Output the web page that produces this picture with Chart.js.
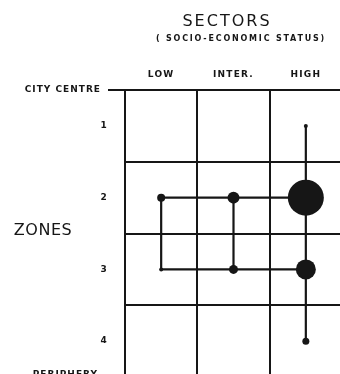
<!DOCTYPE html>
<html>
<head>
<meta charset="utf-8">
<script src="https://cdn.jsdelivr.net/npm/chart.js@4"></script>
<style>
html, body { margin: 0; padding: 0; background: #fff; overflow: hidden; }
#wrap { width: 343px; height: 380px; }
</style>
</head>
<body>
<div id="wrap"><canvas id="chart" width="343" height="380"></canvas></div>
<script>
const sectors = ['LOW', 'INTER.', 'HIGH'];
const zones = ['1', '2', '3', '4'];

// dot weight per sector (LOW, INTER., HIGH) in each zone, null = no dot
const zone1 = [null, null, 2];
const zone2 = [4, 6, 18];
const zone3 = [2, 4.5, 10];
const zone4 = [null, null, 3.5];

// linked cells
const highLink = ['1', '2', '3', '4'];
const lowLink = ['2', '3'];
const interLink = ['2', '3'];
const rowLinks = ['2', '3'];

const ink = '#161616';

const dots = [];
const radii = [];
[zone1, zone2, zone3, zone4].forEach((row, i) => {
    row.forEach((v, j) => {
        if (v !== null) {
            dots.push({ x: sectors[j], y: zones[i] });
            radii.push(v);
        }
    });
});

const lineSet = pts => ({
    data: pts,
    showLine: true,
    borderColor: ink,
    borderWidth: 2.2,
    pointRadius: 0,
    fill: false
});

const datasets = [
    { data: dots, pointRadius: radii, backgroundColor: ink, borderWidth: 0, showLine: false },
    lineSet(highLink.map(z => ({ x: 'HIGH', y: z }))),
    lineSet(lowLink.map(z => ({ x: 'LOW', y: z }))),
    lineSet(interLink.map(z => ({ x: 'INTER.', y: z })))
];
rowLinks.forEach(z => datasets.push(lineSet(sectors.map(s => ({ x: s, y: z })))));

// fixed axis boxes, no extra label padding
const fixBox = size => s => {
    if (s.isHorizontal()) s.height = size; else s.width = size;
    s.paddingLeft = s.paddingRight = s.paddingTop = s.paddingBottom = 0;
};

const labelsPlugin = {
    id: 'labels',
    afterDraw(chart) {
        const { ctx, chartArea, scales } = chart;
        ctx.save();
        ctx.fillStyle = ink;
        ctx.strokeStyle = ink;
        ctx.textBaseline = 'middle';

        ctx.textAlign = 'center';
        ctx.font = '16px "DejaVu Sans"';
        ctx.letterSpacing = '2px';
        ctx.fillText('SECTORS', 227, 22);

        ctx.font = 'bold 8px "DejaVu Sans"';
        ctx.letterSpacing = '1.8px';
        ctx.fillText('( SOCIO-ECONOMIC STATUS)', 241, 39);

        ctx.font = 'bold 9px "DejaVu Sans"';
        ctx.letterSpacing = '1.2px';
        sectors.forEach((s, i) => {
            ctx.fillText(s, scales.x.getPixelForValue(i), 75);
        });

        ctx.textAlign = 'right';
        zones.forEach((z, i) => {
            ctx.fillText(z, chartArea.left - 17, scales.y.getPixelForValue(i));
        });

        ctx.letterSpacing = '1px';
        ctx.fillText('CITY CENTRE', chartArea.left - 24, chartArea.top);
        ctx.fillText('PERIPHERY', chartArea.left - 27, chartArea.bottom - 2);

        ctx.textAlign = 'center';
        ctx.font = '16px "DejaVu Sans"';
        ctx.letterSpacing = '0.5px';
        ctx.fillText('ZONES', 43, 231);

        ctx.lineWidth = 2;
        ctx.beginPath();
        ctx.moveTo(chartArea.left - 17, chartArea.top);
        ctx.lineTo(chartArea.left, chartArea.top);
        ctx.moveTo(chartArea.left - 17, chartArea.bottom);
        ctx.lineTo(chartArea.left, chartArea.bottom);
        ctx.stroke();
        ctx.restore();
    }
};

new Chart(document.getElementById('chart').getContext('2d'), {
    type: 'scatter',
    data: { datasets },
    options: {
        responsive: false,
        animation: false,
        layout: { autoPadding: false, padding: { left: 0, right: 1, top: 0, bottom: 3 } },
        plugins: { legend: { display: false }, tooltip: { enabled: false } },
        scales: {
            x: {
                type: 'category',
                labels: sectors,
                position: 'top',
                offset: true,
                grid: { offset: true, color: ink, lineWidth: 2, drawTicks: false },
                border: { color: ink, width: 2 },
                ticks: { display: false },
                afterFit: fixBox(90)
            },
            y: {
                type: 'category',
                labels: zones,
                position: 'left',
                offset: true,
                grid: { offset: true, color: ink, lineWidth: 2, drawTicks: false },
                border: { color: ink, width: 2 },
                ticks: { display: false },
                afterFit: fixBox(125)
            }
        }
    },
    plugins: [labelsPlugin]
});
</script>
</body>
</html>
